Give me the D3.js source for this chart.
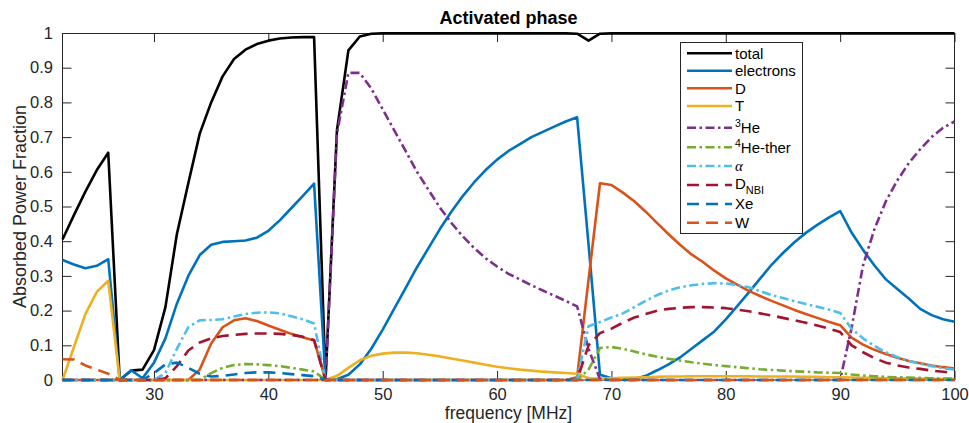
<!DOCTYPE html>
<html><head><meta charset="utf-8">
<script src="https://cdn.jsdelivr.net/npm/d3@7"></script>
<style>body{margin:0;background:#fff} svg{display:block}</style>
</head><body>
<svg id="c" width="969" height="423"></svg>
<script>
// ---------------- DATA ----------------
const frequency = [
  22,23,24,25,26,27,28,29,
  30,31,32,33,34,35,36,37,38,39,
  40,41,42,43,44,45,46,47,48,49,
  50,51,52,53,54,55,56,57,58,59,
  60,61,62,63,64,65,66,67,68,69,
  70,71,72,73,74,75,76,77,78,79,
  80,81,82,83,84,85,86,87,88,89,
  90,91,92,93,94,95,96,97,98,99,
  100];

const total = [
  0.405,0.475,0.543,0.605,0.655,0,0.027,0.03,
  0.086,0.21,0.42,0.567,0.71,0.80,0.875,0.925,0.952,0.968,
  0.978,0.984,0.987,0.988,0.988,0,0.72,0.95,0.99,0.998,
  0.999,0.999,0.999,0.999,0.999,0.999,0.999,0.999,0.999,0.999,
  0.999,0.999,0.999,0.999,0.999,0.999,0.999,0.998,0.978,0.998,
  0.999,0.999,0.999,0.999,0.999,0.999,0.999,0.999,0.999,0.999,
  0.999,0.999,0.999,0.999,0.999,0.999,0.999,0.999,0.999,0.999,
  0.999,0.999,0.999,0.999,0.999,0.999,0.999,0.999,0.999,0.999,
  0.999];

const electrons = [
  0.346,0.333,0.322,0.329,0.348,0,0.028,0.005,
  0.05,0.12,0.22,0.30,0.36,0.39,0.398,0.40,0.402,0.41,
  0.43,0.46,0.495,0.53,0.566,0,0.002,0.015,0.045,0.09,
  0.145,0.205,0.265,0.325,0.38,0.435,0.485,0.53,0.57,0.605,
  0.635,0.66,0.68,0.70,0.715,0.73,0.745,0.757,0.39,0.015,
  0.005,0.001,0.002,0.012,0.028,0.045,0.065,0.09,0.115,0.14,
  0.175,0.213,0.252,0.292,0.332,0.366,0.397,0.424,0.447,0.468,
  0.487,0.425,0.375,0.33,0.29,0.262,0.235,0.205,0.187,0.175,
  0.168];

const D = [
  0,0,0,0,0,0,0,0,
  0,0,0,0,0.03,0.105,0.152,0.172,0.178,0.17,
  0.157,0.145,0.133,0.123,0.114,0,0,0,0,0,
  0,0,0,0,0,0,0,0,0,0,
  0,0,0,0,0,0,0,0.008,0.29,0.567,
  0.562,0.54,0.515,0.485,0.452,0.42,0.39,0.362,0.34,0.315,
  0.293,0.275,0.257,0.242,0.228,0.215,0.202,0.19,0.179,0.168,
  0.158,0.122,0.102,0.087,0.075,0.064,0.055,0.048,0.042,0.037,
  0.033];

const T = [
  0,0.095,0.19,0.254,0.286,0,0,0,
  0,0,0,0,0,0,0,0,0,0,
  0,0,0,0,0,0,0.012,0.035,0.057,0.07,
  0.076,0.079,0.079,0.077,0.073,0.068,0.062,0.056,0.05,0.044,
  0.038,0.034,0.03,0.027,0.024,0.022,0.02,0.018,0.005,0.004,
  0.005,0.006,0.007,0.008,0.009,0.01,0.01,0.011,0.011,0.011,
  0.011,0.011,0.011,0.01,0.01,0.01,0.01,0.009,0.009,0.008,
  0.008,0.007,0.006,0.006,0.005,0.005,0.004,0.004,0.003,0.003,
  0.003];

const He3 = [
  0,0,0,0,0,0,0,0,
  0,0,0,0,0,0,0,0,0,0,
  0,0,0,0,0,0,0.71,0.885,0.885,0.84,
  0.78,0.72,0.66,0.60,0.548,0.497,0.453,0.414,0.38,0.351,
  0.327,0.306,0.29,0.273,0.258,0.243,0.228,0.212,0.09,0.002,
  0,0,0,0,0,0,0,0,0,0,
  0,0,0,0,0,0,0,0,0,0,
  0,0.15,0.33,0.435,0.515,0.575,0.625,0.665,0.70,0.727,
  0.745];

const He4ther = [
  0,0,0,0,0,0,0,0,
  0,0,0,0,0,0.02,0.035,0.043,0.046,0.045,
  0.043,0.04,0.035,0.03,0.025,0,0,0,0,0,
  0,0,0,0,0,0,0,0,0,0,
  0,0,0,0,0,0,0,0,0.03,0.092,
  0.095,0.09,0.082,0.074,0.067,0.061,0.056,0.051,0.047,0.043,
  0.04,0.037,0.034,0.031,0.029,0.027,0.025,0.024,0.022,0.021,
  0.02,0.016,0.013,0.011,0.009,0.008,0.007,0.006,0.005,0.004,
  0.004];

const alpha = [
  0,0,0,0,0,0,0,0,
  0,0.02,0.09,0.152,0.172,0.173,0.175,0.183,0.19,0.194,
  0.195,0.192,0.184,0.175,0.163,0,0,0,0,0,
  0,0,0,0,0,0,0,0,0,0,
  0,0,0,0,0,0,0,0.003,0.155,0.167,
  0.18,0.192,0.21,0.228,0.245,0.258,0.267,0.273,0.277,0.279,
  0.278,0.274,0.267,0.256,0.245,0.236,0.227,0.219,0.211,0.203,
  0.193,0.148,0.12,0.098,0.08,0.066,0.055,0.047,0.04,0.034,
  0.03];

const DNBI = [
  0,0,0,0,0,0,0,0,
  0,0.005,0.04,0.085,0.108,0.12,0.127,0.13,0.133,0.134,
  0.134,0.133,0.13,0.125,0.115,0,0,0,0,0,
  0,0,0,0,0,0,0,0,0,0,
  0,0,0,0,0,0,0,0,0.1,0.135,
  0.148,0.165,0.18,0.19,0.2,0.205,0.208,0.21,0.21,0.209,
  0.207,0.203,0.198,0.192,0.186,0.179,0.172,0.165,0.157,0.148,
  0.138,0.1,0.08,0.063,0.05,0.042,0.036,0.032,0.027,0.024,
  0.02];

const Xe = [
  0,0,0,0,0,0,0,0,
  0.02,0.045,0.05,0.035,0.018,0.01,0.012,0.016,0.02,0.022,
  0.022,0.02,0.017,0.014,0.011,0,0,0,0,0,
  0,0,0,0,0,0,0,0,0,0,
  0,0,0,0,0,0,0,0,0,0,
  0,0,0,0,0,0,0,0,0,0,
  0,0,0,0,0,0,0,0,0,0,
  0,0,0,0,0,0,0,0,0,0,
  0];

const Wt = [
  0.06,0.059,0.042,0.03,0.018,0,0,0,
  0,0,0,0,0,0,0,0,0,0,
  0,0,0,0,0,0,0,0,0,0,
  0,0,0,0,0,0,0,0,0,0,
  0,0,0,0,0,0,0,0,0,0,
  0,0,0,0,0,0,0,0,0,0,
  0,0,0,0,0,0,0,0,0,0,
  0,0,0,0,0,0,0,0,0,0,
  0];

const xTicks = [30,40,50,60,70,80,90,100];
const yTicks = [0,0.1,0.2,0.3,0.4,0.5,0.6,0.7,0.8,0.9,1];
const yTickLabels = ["0","0.1","0.2","0.3","0.4","0.5","0.6","0.7","0.8","0.9","1"];

// ---------------- STYLE / LAYOUT ----------------
const FONT = '"Liberation Sans", Arial, Helvetica, sans-serif';
const AX = '#262626';
const DASH = '12,7';
const DASHDOT = '9,3.5,2.5,3.5';

const series = [
  {key:'total',   values:total,     color:'#000000', dash:null},
  {key:'electrons',values:electrons,color:'#0072BD', dash:null},
  {key:'D',       values:D,         color:'#D95319', dash:null},
  {key:'T',       values:T,         color:'#EDB120', dash:null},
  {key:'3He',     values:He3,       color:'#7E2F8E', dash:DASHDOT},
  {key:'4He',     values:He4ther,   color:'#77AC30', dash:DASHDOT},
  {key:'alpha',   values:alpha,     color:'#4DBEEE', dash:DASHDOT},
  {key:'DNBI',    values:DNBI,      color:'#A2142F', dash:DASH},
  {key:'Xe',      values:Xe,        color:'#0072BD', dash:DASH},
  {key:'W',       values:Wt,        color:'#D95319', dash:DASH}
];

const m = {l:62.5, r:954.5, t:33, b:380};
const x = d3.scaleLinear().domain([22,100]).range([m.l, m.r]);
const y = d3.scaleLinear().domain([0,1]).range([m.b, m.t]);

const svg = d3.select('#c');
svg.append('rect').attr('width',969).attr('height',423).attr('fill','#fff');

// axes (ticks inward, box)
const gx = svg.append('g').attr('transform',`translate(0,${m.b})`)
  .call(d3.axisBottom(x).tickValues(xTicks).tickSizeInner(-9).tickSizeOuter(0).tickPadding(8).tickFormat(d3.format('d')));
const gxt = svg.append('g').attr('transform',`translate(0,${m.t})`)
  .call(d3.axisTop(x).tickValues(xTicks).tickSizeInner(-9).tickSizeOuter(0).tickFormat(''));
const gy = svg.append('g').attr('transform',`translate(${m.l},0)`)
  .call(d3.axisLeft(y).tickValues(yTicks).tickSizeInner(-9).tickSizeOuter(0).tickPadding(9.5).tickFormat((d,i)=>yTickLabels[i]));
const gyr = svg.append('g').attr('transform',`translate(${m.r},0)`)
  .call(d3.axisRight(y).tickValues(yTicks).tickSizeInner(-9).tickSizeOuter(0).tickFormat(''));
[gx,gxt,gy,gyr].forEach(g=>{
  g.select('.domain').remove();
  g.selectAll('line').attr('stroke',AX).attr('stroke-width',1);
  g.selectAll('text').attr('fill',AX).style('font-family',FONT).style('font-size','16.5px');
});
svg.append('rect').attr('x',m.l).attr('y',m.t+0.5).attr('width',m.r-m.l).attr('height',m.b-m.t-0.5)
  .attr('fill','none').attr('stroke',AX).attr('stroke-width',1);

// lines
const line = d3.line().x((d,i)=>x(frequency[i])).y(d=>y(d));
series.forEach(s=>{
  svg.append('path').attr('d', line(s.values))
    .attr('fill','none').attr('stroke',s.color).attr('stroke-width',2.6)
    .attr('stroke-linejoin','round')
    .attr('stroke-dasharray', s.dash);
});

// title & labels
svg.append('text').attr('x',(m.l+m.r)/2).attr('y',24).attr('text-anchor','middle')
  .style('font-family',FONT).style('font-size','18px').style('font-weight','bold').attr('fill','#000')
  .text('Activated phase');
svg.append('text').attr('x',(m.l+m.r)/2).attr('y',419.3).attr('text-anchor','middle')
  .style('font-family',FONT).style('font-size','17.5px').attr('fill',AX)
  .text('frequency [MHz]');
svg.append('text').attr('transform',`translate(25.5,${(m.t+m.b)/2}) rotate(-90)`).attr('text-anchor','middle')
  .style('font-family',FONT).style('font-size','18px').attr('fill',AX)
  .text('Absorbed Power Fraction');

// legend
const legRows = [53.3,70.7,88.3,106,127.7,147.3,166,185,204,222.7];
const lg = svg.append('g');
lg.append('rect').attr('x',680.5).attr('y',42.5).attr('width',122).attr('height',191)
  .attr('fill','#fff').attr('stroke',AX).attr('stroke-width',1);
series.forEach((s,i)=>{
  const ly = legRows[i];
  lg.append('line').attr('x1',687).attr('x2',732).attr('y1',ly).attr('y2',ly)
    .attr('stroke',s.color).attr('stroke-width',2.6).attr('stroke-dasharray',s.dash);
  const t = lg.append('text').attr('x',735).attr('y',ly+5.2)
    .style('font-family',FONT).style('font-size','15px').attr('fill','#000');
  if (s.key==='3He' || s.key==='4He') {
    t.append('tspan').attr('dy',-6).style('font-size','10.5px').text(s.key[0]);
    t.append('tspan').attr('dy',6).text(s.key==='3He' ? 'He' : 'He-ther');
  } else if (s.key==='alpha') {
    t.append('tspan').style('font-family','"Liberation Serif","DejaVu Serif",serif').style('font-style','italic').text('α');
  } else if (s.key==='DNBI') {
    t.attr('y',ly+3.5);
    t.append('tspan').text('D');
    t.append('tspan').attr('dy',5.5).style('font-size','11px').text('NBI');
  } else {
    t.text(s.key);
  }
});
</script>
</body></html>
